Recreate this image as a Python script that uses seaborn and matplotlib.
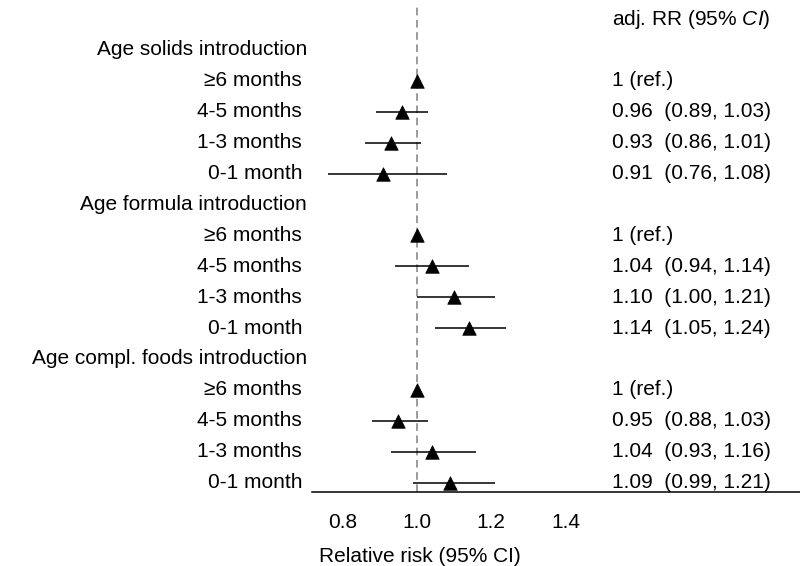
import numpy as np
import pandas as pd
import matplotlib
matplotlib.use("Agg")
import matplotlib.pyplot as plt
import matplotlib.transforms as mtransforms
import seaborn as sns

sns.set_style("white")
plt.rcParams['font.family'] = ['Liberation Sans', 'DejaVu Sans']
plt.rcParams['mathtext.fontset'] = 'custom'
plt.rcParams['mathtext.rm'] = 'Liberation Sans'
plt.rcParams['mathtext.it'] = 'Liberation Sans:italic'
plt.rcParams['text.color'] = 'black'
plt.rcParams['axes.labelcolor'] = 'black'
plt.rcParams['xtick.color'] = 'black'

# Datos
grupos = ["Age solids introduction", "Age formula introduction", "Age compl. foods introduction"]
categorias = ["\u22656 months", "4-5 months", "1-3 months", "0-1 month"]
rr = [1.00, 0.96, 0.93, 0.91,
      1.00, 1.04, 1.10, 1.14,
      1.00, 0.95, 1.04, 1.09]
ci_low = [1.00, 0.89, 0.86, 0.76,
          1.00, 0.94, 1.00, 1.05,
          1.00, 0.88, 0.93, 0.99]
ci_high = [1.00, 1.03, 1.01, 1.08,
           1.00, 1.14, 1.21, 1.24,
           1.00, 1.03, 1.16, 1.21]
etiquetas_rr = ["1 (ref.)", "0.96  (0.89, 1.03)", "0.93  (0.86, 1.01)", "0.91  (0.76, 1.08)",
                "1 (ref.)", "1.04  (0.94, 1.14)", "1.10  (1.00, 1.21)", "1.14  (1.05, 1.24)",
                "1 (ref.)", "0.95  (0.88, 1.03)", "1.04  (0.93, 1.16)", "1.09  (0.99, 1.21)"]

# Posiciones de filas (cabecera de grupo + 4 categorías)
filas = []
fila_grupo = []
pos = 0
for g in grupos:
    fila_grupo.append(pos)
    pos += 1
    for c in categorias:
        filas.append(pos)
        pos += 1

df = pd.DataFrame({"fila": filas, "rr": rr, "lo": ci_low, "hi": ci_high,
                   "cat": categorias * 3, "txt": etiquetas_rr})

fs = 15
fig = plt.figure(figsize=(8, 5.66), dpi=100)
ax = fig.add_axes([0.39, 0.131, 0.61, 0.86])

ax.axvline(1.0, color="#808080", linestyle=(0, (5, 3)), linewidth=1.1, zorder=1)
ax.hlines(df["fila"], df["lo"], df["hi"], color="black", linewidth=1.1, zorder=2)
sns.scatterplot(data=df, x="rr", y="fila", marker="^", color="black", s=95,
                edgecolor="black", linewidth=0.5, ax=ax, zorder=3, legend=False)

ax.set_xlim(0.718, 2.03)
ax.set_ylim(14.3, -1.45)
ax.set_xticks([0.8, 1.0, 1.2, 1.4])
ax.set_xticklabels(["0.8", "1.0", "1.2", "1.4"], fontsize=fs)
ax.tick_params(axis="x", length=0, pad=15)
ax.set_yticks([])
ax.set_ylabel("")
ax.set_xlabel("Relative risk (95% CI)", fontsize=fs)
ax.xaxis.set_label_coords(0.221, -0.114)
for s in ["top", "right", "left"]:
    ax.spines[s].set_visible(False)
ax.spines["bottom"].set_linewidth(1.1)
ax.spines["bottom"].set_color("black")

# Etiquetas a la izquierda (coordenadas de figura en x)
trans = mtransforms.blended_transform_factory(fig.transFigure, ax.transData)
for g, f in zip(grupos, fila_grupo):
    ax.text(307 / 800, f, g, transform=trans, ha="right", va="center", fontsize=fs)
for _, r in df.iterrows():
    ax.text(302 / 800, r["fila"], r["cat"], transform=trans, ha="right", va="center", fontsize=fs)
    ax.text(612 / 800, r["fila"], r["txt"], transform=trans, ha="left", va="center", fontsize=fs)

ax.text(612 / 800, -0.97, r"adj. RR ($\mathit{95\%\ CI}$)", transform=trans,
        ha="left", va="center", fontsize=fs)

fig.savefig("out.png", dpi=100)
